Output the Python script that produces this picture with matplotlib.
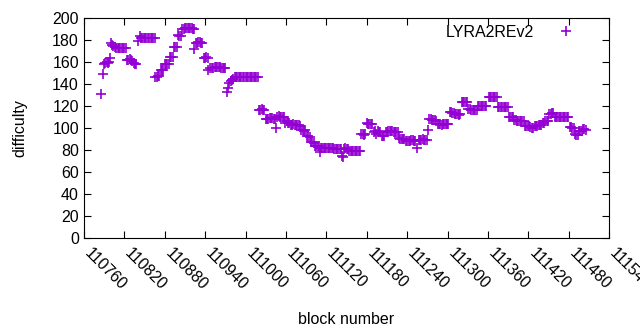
import matplotlib
matplotlib.use("Agg")
import matplotlib.pyplot as plt
from matplotlib.transforms import ScaledTranslation

plt.rcParams["font.family"] = ["Liberation Sans", "DejaVu Sans"]

# block numbers and difficulty
blocks = [
    110786, 110789,
    110790, 110792, 110794, 110796, 110798, 110799,
    110800, 110802, 110804, 110806,
    110808, 110810, 110812, 110814, 110816, 110818, 110820, 110822,
    110824, 110826, 110828, 110830, 110832,
    110834, 110836, 110838, 110840, 110843,
    110845, 110847, 110849, 110851, 110853, 110855, 110857, 110859, 110861, 110863, 110865,
    110866, 110868, 110870, 110872,
    110874, 110876, 110878,
    110880, 110882, 110884, 110886,
    110888, 110890, 110892,
    110894, 110896, 110898,
    110900, 110902, 110904,
    110906, 110908, 110910, 110912, 110914, 110916, 110918, 110920, 110922, 110924, 110923,
    110926, 110928, 110930, 110932, 110934, 110936,
    110938, 110940, 110942, 110944, 110945,
    110948, 110950, 110952, 110954, 110956, 110958, 110960, 110962, 110964, 110966, 110968, 110970,
    110972, 110974,
    110976, 110978, 110980, 110982,
    110984, 110986, 110988, 110990, 110992, 110994, 110996, 110998, 111000,
    111002, 111004, 111006, 111008, 111010, 111012, 111014, 111016, 111018,
    111020, 111022, 111024, 111026, 111028,
    111030, 111032, 111034, 111036, 111038, 111040, 111042, 111044, 111045,
    111047, 111049, 111051, 111053, 111055, 111057,
    111059, 111061, 111063, 111065,
    111067, 111069, 111071, 111073, 111075, 111077, 111079, 111081,
    111083, 111085, 111087, 111089,
    111091, 111093, 111095,
    111097, 111099, 111101,
    111103, 111105, 111107, 111109, 111110,
    111112, 111114, 111116, 111118, 111120, 111122, 111124, 111126,
    111128, 111130, 111132, 111134, 111136, 111138, 111140, 111142,
    111143, 111145,
    111146, 111148, 111150, 111152,
    111154, 111156, 111158, 111160, 111162, 111164, 111166, 111168, 111170,
    111172, 111174, 111176, 111178,
    111180, 111182, 111184, 111186, 111188,
    111190, 111192, 111194, 111196, 111198, 111200,
    111202, 111204, 111206,
    111208, 111210, 111212, 111214, 111216, 111218, 111220, 111222, 111224, 111226,
    111228, 111230, 111232, 111234, 111236,
    111238, 111240, 111242, 111244, 111246, 111248, 111250, 111252, 111255,
    111257, 111259, 111261, 111263, 111265, 111267, 111269, 111271,
    111273, 111275, 111277, 111279, 111281, 111283,
    111285, 111287, 111289, 111291, 111293, 111295, 111297, 111299, 111301,
    111303, 111305, 111307, 111309,
    111311, 111313, 111315, 111317, 111319,
    111321, 111323, 111325, 111327, 111329,
    111331, 111333, 111335, 111337, 111339, 111341, 111343,
    111345, 111347, 111349, 111351, 111353, 111355, 111357,
    111361, 111363, 111365, 111367, 111369, 111371, 111373,
    111375, 111377, 111379, 111381, 111383, 111385, 111387, 111389,
    111391, 111393, 111395, 111397,
    111399, 111401, 111403, 111405, 111407, 111409, 111411, 111413,
    111415, 111417, 111419, 111421, 111423,
    111425, 111427,
    111429, 111431, 111433, 111435, 111437, 111439,
    111441, 111443, 111445, 111447, 111449,
    111451, 111453, 111455, 111457,
    111459, 111461, 111463, 111465, 111467, 111469, 111471, 111473, 111475, 111477, 111479,
    111481, 111483, 111485, 111487,
    111489, 111491, 111493,
    111495, 111497, 111499,
    111501, 111503, 111505,
]

difficulty = [
    131, 149,
    158, 159, 160, 159, 160, 164,
    177, 176, 175, 174,
    173, 173, 173, 173, 173, 173, 173, 173,
    162, 162, 163, 162, 161,
    159, 158, 158, 179, 184,
    182, 182, 182, 182, 182, 182, 182, 182, 182, 182, 182,
    146, 146, 147, 147,
    153, 153, 153,
    158, 158, 158, 158,
    165, 165, 165,
    174, 174, 174,
    185, 184, 184,
    190, 190, 191, 191, 191, 191, 191, 191, 190, 190, 172,
    177, 177, 178, 178, 177, 177,
    164, 164, 165, 164, 153,
    155, 155, 155, 156, 156, 156, 156, 156, 155, 155, 155, 155,
    133, 136,
    141, 143, 144, 145,
    146, 146, 146, 146, 146, 146, 146, 146, 146,
    146, 146, 146, 146, 146, 146, 146, 146, 146,
    116, 116, 117, 116, 116,
    108, 108, 108, 109, 109, 109, 108, 108, 100,
    110, 111, 110, 110, 110, 110,
    105, 106, 105, 105,
    103, 103, 104, 103, 103, 103, 103, 102,
    98, 98, 97, 98,
    93, 93, 92,
    87, 87, 86,
    84, 84, 84, 84, 78,
    82, 82, 82, 82, 82, 82, 82, 82,
    82, 82, 81, 81, 81, 81, 81, 81,
    75, 74,
    81, 82, 81, 81,
    79, 79, 79, 79, 79, 79, 79, 79, 79,
    95, 95, 94, 95,
    105, 104, 104, 104, 104,
    96, 97, 95, 97, 96, 96,
    93, 93, 93,
    96, 96, 97, 97, 97, 97, 96, 96, 96, 96,
    91, 90, 90, 90, 90,
    88, 88, 88, 88, 89, 89, 88, 88, 82,
    89, 89, 89, 90, 89, 89, 89, 98,
    108, 108, 107, 107, 107, 106,
    104, 104, 104, 103, 104, 104, 104, 104, 104,
    115, 115, 114, 114,
    113, 113, 113, 112, 113,
    124, 124, 124, 124, 124,
    117, 117, 116, 116, 116, 116, 116,
    120, 120, 120, 120, 120, 120, 120,
    128, 128, 128, 128, 128, 128, 128,
    119, 119, 119, 119, 119, 119, 119, 119,
    110, 110, 110, 110,
    107, 107, 106, 106, 106, 106, 106, 106,
    102, 102, 102, 102, 101,
    100, 100,
    102, 102, 102, 103, 103, 103,
    105, 105, 106, 106, 106,
    113, 113, 114, 114,
    110, 110, 110, 110, 110, 110, 110, 110, 110, 110, 110,
    101, 101, 100, 100,
    95, 94, 94,
    97, 97, 97,
    99, 99, 98,
]

xticks = list(range(110760, 111541, 60))
yticks = list(range(0, 201, 20))

fig = plt.figure(figsize=(6.4, 3.3), dpi=100)
ax = fig.add_axes([0.131, 0.279, 0.821, 0.666])

ax.plot(blocks, difficulty, linestyle="none", marker="+", markersize=7,
        markeredgewidth=1.2, color="#9400d3", label="LYRA2REv2")

ax.set_xlim(110760, 111540)
ax.set_ylim(0, 200)
ax.set_xticks(xticks)
ax.set_yticks(yticks)
ax.set_xticklabels([str(t) for t in xticks], rotation=-45, ha="left", va="center",
                   rotation_mode="anchor")
ax.tick_params(direction="in", top=True, right=True, length=5, width=0.8,
               labelsize=11.5, colors="black")
ax.tick_params(axis="x", pad=9)
shift = ScaledTranslation(3 / 100, 0, fig.dpi_scale_trans)
for lab in ax.get_xticklabels():
    lab.set_transform(lab.get_transform() + shift)
for s in ax.spines.values():
    s.set_linewidth(0.8)

ax.set_xlabel("block number", fontsize=11.5, labelpad=14)
ax.set_ylabel("difficulty", fontsize=11.5, labelpad=18)

ax.legend(loc="upper right", markerfirst=False, frameon=False, fontsize=11.5,
          handlelength=2.0, handletextpad=1.0, borderaxespad=0.0,
          bbox_to_anchor=(0.96, 1.0))

fig.savefig("out.png", dpi=100)
